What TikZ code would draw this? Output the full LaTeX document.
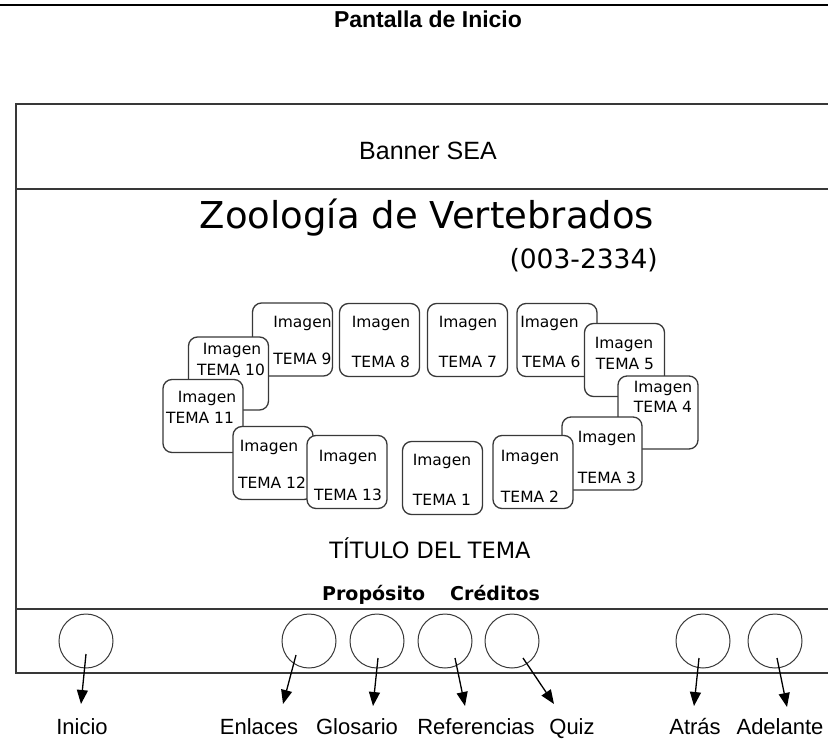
\documentclass[tikz,border=0pt]{standalone}
\usepackage{fontspec}
\usetikzlibrary{arrows.meta}
\newfontfamily\arialfont{Liberation Sans}
\newfontfamily\verdfont{DejaVu Sans}
\definecolor{linegray}{HTML}{383838}

\begin{document}
\begin{tikzpicture}[
    x=1pt, y=-1pt,
    frame/.style={draw=linegray, line width=1.5pt},
    tile/.style={rectangle, draw=linegray, fill=white, rounded corners=9pt, line width=1.3pt, minimum width=80pt, minimum height=73pt, inner sep=0pt},
    imgtxt/.style={font=\verdfont\fontsize{15.5}{18}\selectfont, anchor=base, inner sep=0pt},
    navbtn/.style={circle, draw=linegray, line width=1pt, minimum size=54pt, inner sep=0pt},
    navlabel/.style={font=\arialfont\fontsize{22}{26}\selectfont, anchor=base, inner sep=0pt},
    navarrow/.style={-{Triangle[width=11pt,length=14pt]}, line width=1.3pt}
]
\useasboundingbox (0,0) rectangle (828,742);

% page title and frame
\draw[line width=2pt] (0,5) -- (828,5);
\node[font=\arialfont\bfseries\fontsize{23}{27}\selectfont, anchor=base, inner sep=0pt] (title) at (428,27) {Pantalla de Inicio};
\draw[frame] (828,104) -- (16,104) -- (16,673) -- (828,673);
\draw[frame] (16,189) -- (828,189);
\draw[frame] (16,609) -- (828,609);

% banner and course name
\node[font=\arialfont\fontsize{25}{30}\selectfont, anchor=base, inner sep=0pt] (banner) at (428,159) {Banner SEA};
\node[font=\verdfont\fontsize{37}{44}\selectfont, anchor=base, inner sep=0pt] (course) at (427,228) {Zoología de Vertebrados};
\node[font=\verdfont\fontsize{26.5}{32}\selectfont, anchor=base east, inner sep=0pt] (code) at (658,268) {(003-2334)};

% topic tiles
\node[tile] (t8) at (379.5,340) {};
\node[imgtxt] (t8img) at (381,327.5) {Imagen};
\node[imgtxt] (t8lab) at (381,367.5) {TEMA 8};
\node[tile] (t7) at (467.5,340) {};
\node[imgtxt] (t7img) at (468,327.5) {Imagen};
\node[imgtxt] (t7lab) at (468,367.5) {TEMA 7};
\node[tile] (t1) at (442.5,478) {};
\node[imgtxt] (t1img) at (442,465.5) {Imagen};
\node[imgtxt] (t1lab) at (442,505.5) {TEMA 1};

\node[tile] (t9) at (292.5,339.5) {};
\node[imgtxt] (t9img) at (302.5,327.5) {Imagen};
\node[imgtxt] (t9lab) at (302.5,364.5) {TEMA 9};
\node[tile] (t10) at (228.5,373.5) {};
\node[imgtxt] (t10img) at (232,354.5) {Imagen};
\node[imgtxt] (t10lab) at (231,375.5) {TEMA 10};
\node[tile] (t11) at (203,416) {};
\node[imgtxt] (t11img) at (207,402.5) {Imagen};
\node[imgtxt] (t11lab) at (200,423.5) {TEMA 11};
\node[tile] (t12) at (273,463) {};
\node[imgtxt] (t12img) at (269,451.5) {Imagen};
\node[imgtxt] (t12lab) at (272,488.5) {TEMA 12};
\node[tile] (t13) at (347,472) {};
\node[imgtxt] (t13img) at (348,461.5) {Imagen};
\node[imgtxt] (t13lab) at (348,500.5) {TEMA 13};

\node[tile] (t6) at (557,340) {};
\node[imgtxt] (t6img) at (549.5,327.5) {Imagen};
\node[imgtxt] (t6lab) at (551.5,367.5) {TEMA 6};
\node[tile] (t5) at (624.5,360) {};
\node[imgtxt] (t5img) at (624,348.5) {Imagen};
\node[imgtxt] (t5lab) at (625,369.5) {TEMA 5};
\node[tile] (t4) at (658,412.5) {};
\node[imgtxt] (t4img) at (663,392.5) {Imagen};
\node[imgtxt] (t4lab) at (663,412.5) {TEMA 4};
\node[tile] (t3) at (602,453.5) {};
\node[imgtxt] (t3img) at (607,442.5) {Imagen};
\node[imgtxt] (t3lab) at (607,483.5) {TEMA 3};
\node[tile] (t2) at (533,472) {};
\node[imgtxt] (t2img) at (530,461.5) {Imagen};
\node[imgtxt] (t2lab) at (530,502.5) {TEMA 2};

% topic title and links
\node[font=\verdfont\fontsize{22.5}{27}\selectfont, anchor=base, inner sep=0pt] (topic) at (430,558) {TÍTULO DEL TEMA};
\node[font=\verdfont\bfseries\fontsize{19}{23}\selectfont, anchor=base west, inner sep=0pt] (purpose) at (322,600) {Propósito};
\node[font=\verdfont\bfseries\fontsize{19}{23}\selectfont, anchor=base west, inner sep=0pt] (credits) at (450,600) {Créditos};

% navigation buttons
\node[navbtn] (bInicio) at (86,641) {};
\node[navbtn] (bEnlaces) at (309,641) {};
\node[navbtn] (bGlosario) at (377,641) {};
\node[navbtn] (bReferencias) at (445,641) {};
\node[navbtn] (bQuiz) at (512,641) {};
\node[navbtn] (bAtras) at (703,641) {};
\node[navbtn] (bAdelante) at (775,641) {};

\node[navlabel] (lInicio) at (82,734) {Inicio};
\node[navlabel] (lEnlaces) at (259,734) {Enlaces};
\node[navlabel] (lGlosario) at (357,734) {Glosario};
\node[navlabel] (lReferencias) at (476,734) {Referencias};
\node[navlabel] (lQuiz) at (572,734) {Quiz};
\node[navlabel] (lAtras) at (695,734) {Atrás};
\node[navlabel] (lAdelante) at (780,734) {Adelante};

\coordinate (eInicio) at (81,704);
\coordinate (eEnlaces) at (283,704);
\coordinate (eGlosario) at (373,706);
\coordinate (eReferencias) at (465,706);
\coordinate (eQuiz) at (554,704);
\coordinate (eAtras) at (694,706);
\coordinate (eAdelante) at (787,707);

\draw[navarrow] ([shift={(0,13)}]bInicio.center) -- (eInicio);
\draw[navarrow] ([shift={(-13,14)}]bEnlaces.center) -- (eEnlaces);
\draw[navarrow] ([shift={(1,17)}]bGlosario.center) -- (eGlosario);
\draw[navarrow] ([shift={(10,17)}]bReferencias.center) -- (eReferencias);
\draw[navarrow] ([shift={(11,17)}]bQuiz.center) -- (eQuiz);
\draw[navarrow] ([shift={(-4,17)}]bAtras.center) -- (eAtras);
\draw[navarrow] ([shift={(2,17)}]bAdelante.center) -- (eAdelante);
\end{tikzpicture}
\end{document}
